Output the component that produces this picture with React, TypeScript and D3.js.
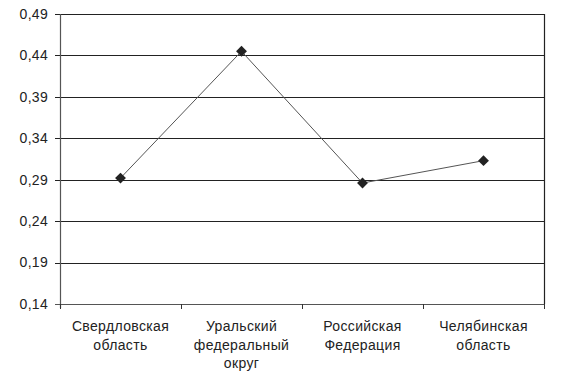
import React from "react";
import * as d3 from "d3";

const categories: string[][] = [
  ["Свердловская", "область"],
  ["Уральский", "федеральный", "округ"],
  ["Российская", "Федерация"],
  ["Челябинская", "область"],
];
const values: number[] = [0.292, 0.445, 0.286, 0.313];
const yTicks: number[] = [0.14, 0.19, 0.24, 0.29, 0.34, 0.39, 0.44, 0.49];

const W = 570;
const H = 380;
const left = 60;
const right = 544;
const top = 14;
const bottom = 304;

export default function App() {
  const x = d3
    .scaleBand<number>()
    .domain(d3.range(categories.length))
    .range([left, right])
    .paddingInner(0)
    .paddingOuter(0);
  const y = d3.scaleLinear().domain([0.14, 0.49]).range([bottom, top]);
  const cx = (i: number) => (x(i) as number) + x.bandwidth() / 2;
  const line = d3
    .line<number>()
    .x((_, i) => cx(i))
    .y((d) => y(d));
  const fmt = (v: number) => v.toFixed(2).replace(".", ",");
  const font = "'Liberation Sans', Arial, sans-serif";
  const boundaries = d3.range(categories.length + 1).map((i) =>
    i < categories.length ? (x(i) as number) : right
  );
  return (
    <svg
      width={W}
      height={H}
      style={{ position: "absolute", left: 0, top: 0, background: "#fff" }}
    >
      {yTicks.map((t) => (
        <g key={t}>
          <line
            x1={left - 5}
            x2={right}
            y1={Math.round(y(t)) + 0.5}
            y2={Math.round(y(t)) + 0.5}
            stroke={t === 0.14 ? "#555" : "#222"}
            strokeWidth={1.2}
          />
          <text
            x={48}
            y={y(t)}
            dy="0.35em"
            textAnchor="end"
            fontFamily={font}
            fontSize={14}
            letterSpacing={0.3}
            fill="#222"
          >
            {fmt(t)}
          </text>
        </g>
      ))}
      <line x1={left + 0.5} x2={left + 0.5} y1={top} y2={bottom + 4} stroke="#555" strokeWidth={1.2} />
      <line x1={right + 0.5} x2={right + 0.5} y1={top} y2={bottom} stroke="#222" strokeWidth={1.2} />
      {boundaries.map((bx, i) => (
        <line key={i} x1={bx + 0.5} x2={bx + 0.5} y1={bottom} y2={bottom + 5} stroke="#333" strokeWidth={1} />
      ))}
      <path d={line(values) || ""} fill="none" stroke="#555" strokeWidth={1} />
      {values.map((v, i) => (
        <path
          key={i}
          d={d3.symbol(d3.symbolDiamond2, 75)() || ""}
          transform={`translate(${cx(i)},${y(v)})`}
          fill="#222"
        />
      ))}
      {categories.map((lines, i) => (
        <text
          key={i}
          x={cx(i)}
          textAnchor="middle"
          fontFamily={font}
          fontSize={14}
          letterSpacing={0.35}
          fill="#222"
        >
          {lines.map((l, j) => (
            <tspan key={j} x={cx(i)} y={331 + j * 18.5}>
              {l}
            </tspan>
          ))}
        </text>
      ))}
    </svg>
  );
}
